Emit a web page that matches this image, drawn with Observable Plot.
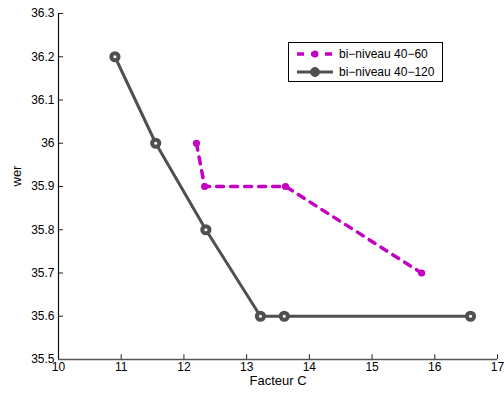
<!DOCTYPE html>
<html><head><meta charset="utf-8">
<script src="https://cdn.jsdelivr.net/npm/d3@7"></script>
<script src="https://cdn.jsdelivr.net/npm/@observablehq/plot@0.6"></script>
<style>
body{margin:0;background:#fff;font-family:"Liberation Sans",Arial,sans-serif;}
#wrap{position:relative;width:504px;height:397px;}
#legend{position:absolute;left:288px;top:42px;width:155px;height:40px;border:1px solid #000;background:#fff;font-size:12px;box-sizing:border-box;}
#legend .row{position:absolute;left:0;height:14px;display:flex;align-items:center;}
#legend svg{display:block;}
</style></head>
<body><div id="wrap"><div id="chart"></div>
<div id="legend">
 <div class="row" style="top:4px"><svg width="50" height="14"><line x1="8" x2="44" y1="7" y2="7" stroke="#c400c4" stroke-width="3.5" stroke-dasharray="7,7"/><circle cx="26" cy="7" r="3.5" fill="#c400c4"/></svg><span>bi−niveau 40−60</span></div>
 <div class="row" style="top:22px"><svg width="50" height="14"><line x1="8" x2="44" y1="7" y2="7" stroke="#505050" stroke-width="3"/><circle cx="26" cy="7" r="4.5" fill="#505050" stroke="#505050" stroke-width="1"/></svg><span>bi−niveau 40−120</span></div>
</div></div>
<script>
const seriesA = "bi−niveau 40−60";
const seriesB = "bi−niveau 40−120";
const xA = [12.2, 12.33, 13.62, 15.79];
const yA = [36.0, 35.9, 35.9, 35.7];
const xB = [10.9, 11.55, 12.35, 13.22, 13.6, 16.57];
const yB = [36.2, 36.0, 35.8, 35.6, 35.6, 35.6];
const xTicks = [10, 11, 12, 13, 14, 15, 16, 17];
const yTicks = [35.5, 35.6, 35.7, 35.8, 35.9, 36, 36.1, 36.2, 36.3];

const A = xA.map((x, i) => ({x, y: yA[i]}));
const B = xB.map((x, i) => ({x, y: yB[i]}));
const magenta = "#c400c4", gray = "#505050";

const chart = Plot.plot({
  width: 504, height: 397,
  marginLeft: 58, marginRight: 7, marginTop: 13, marginBottom: 38,
  style: {fontFamily: "Liberation Sans, Arial, sans-serif", fontSize: "12px", color: "#000", background: "#fff"},
  x: {domain: [10, 17], ticks: xTicks},
  y: {domain: [35.5, 36.3], ticks: yTicks},
  marks: [
    Plot.axisX({ticks: xTicks, tickSize: 0, tickPadding: 3, tickFormat: d => String(d), label: null}),
    Plot.axisY({ticks: yTicks, tickSize: 0, tickPadding: 4, tickFormat: d => String(d), label: null}),
    Plot.ruleX(xTicks, {x: d => d, y1: 35.5, y2: 35.5 + 0.011, stroke: "#222", strokeWidth: 1}),
    Plot.ruleY(yTicks, {y: d => d, x1: 10, x2: 10 + 0.08, stroke: "#222", strokeWidth: 1}),
    Plot.ruleY([35.5], {stroke: "#555", strokeWidth: 1.6}),
    Plot.ruleX([10], {stroke: "#111", strokeWidth: 1.2}),
    Plot.line(A, {x: "x", y: "y", stroke: magenta, strokeWidth: 3.5, strokeDasharray: "7,7"}),
    Plot.dot(A, {x: "x", y: "y", r: 3.6, fill: magenta}),
    Plot.line(B, {x: "x", y: "y", stroke: gray, strokeWidth: 3}),
    Plot.dot(B, {x: "x", y: "y", r: 3.6, fill: "#fff", stroke: gray, strokeWidth: 4}),
    Plot.text(["Facteur C"], {frameAnchor: "bottom", dy: 25, text: d => d, fontSize: 13, fill: "#000"}),
    Plot.text(["wer"], {frameAnchor: "left", dx: -42, rotate: -90, text: d => d, fontSize: 13, fill: "#000"})
  ]
});
document.getElementById("chart").appendChild(chart);
</script>
</body></html>
